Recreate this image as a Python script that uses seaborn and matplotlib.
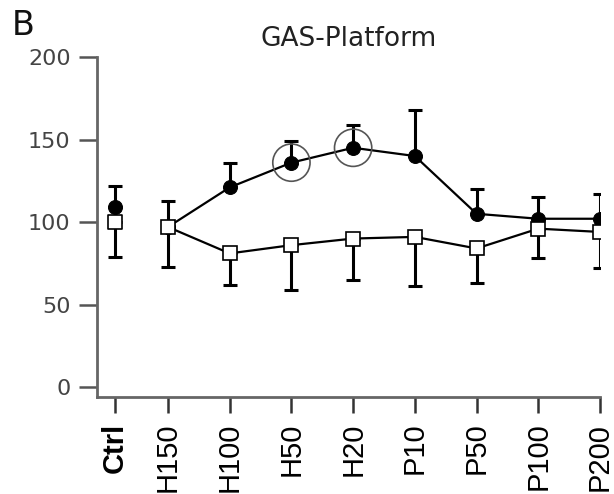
import numpy as np
import pandas as pd
import matplotlib
matplotlib.use("Agg")
import matplotlib.pyplot as plt
import seaborn as sns

# ---- data ----
categories = ["Ctrl", "H150", "H100", "H50", "H20", "P10", "P50", "P100", "P200"]
filled_mean = [109, 97, 121, 136, 145, 140, 105, 102, 102]
filled_upper = [122, 113, 136, 149, 159, 168, 120, 115, 117]
open_mean = [100, 97, 81, 86, 90, 91, 84, 96, 94]
open_lower = [79, 73, 62, 59, 65, 61, 63, 78, 72]
highlighted = ["H50", "H20"]
yticks = [0, 50, 100, 150, 200]
title = "GAS-Platform"
panel = "B"

sns.set_style("ticks")
plt.rcParams["font.family"] = ["DejaVu Sans"]

# layout positions for categories (Ctrl sits closer to H150)
xpos = np.array([0.14] + list(range(1, len(categories))), dtype=float)

df = pd.DataFrame({
    "cat": categories,
    "x": xpos,
    "filled": filled_mean,
    "filled_up": filled_upper,
    "open": open_mean,
    "open_lo": open_lower,
})
ctrl = df.iloc[:1]
rest = df.iloc[1:]

fig = plt.figure(figsize=(6.14, 4.94), dpi=100)
ax = fig.add_axes([97 / 614, 1 - 397 / 494, (600 - 97) / 614, (397 - 57) / 494])

# error bars (one-sided)
f = df["filled"].to_numpy(float)
o = df["open"].to_numpy(float)
ax.errorbar(df["x"], f, yerr=[np.zeros_like(f), df["filled_up"] - f], fmt="none",
            ecolor="black", elinewidth=2.2, capsize=4.8, capthick=2.2, zorder=2)
ax.errorbar(df["x"], o, yerr=[o - df["open_lo"], np.zeros_like(o)], fmt="none",
            ecolor="black", elinewidth=2.2, capsize=4.8, capthick=2.2, zorder=2)

# lines with markers
sns.lineplot(data=rest, x="x", y="filled", color="black", lw=1.6, marker="o",
             markersize=10, markeredgecolor="black", markerfacecolor="black",
             ax=ax, zorder=3)
sns.lineplot(data=rest, x="x", y="open", color="black", lw=1.6, marker="s",
             markersize=10.5, markeredgecolor="black", markerfacecolor="white",
             markeredgewidth=1.2, ax=ax, zorder=4)

# control points (not connected)
sns.scatterplot(data=ctrl, x="x", y="filled", color="black", marker="o", s=100,
                edgecolor="black", ax=ax, zorder=3)
sns.scatterplot(data=ctrl, x="x", y="open", color="white", marker="s", s=110,
                edgecolor="black", linewidth=1.2, ax=ax, zorder=4)

# highlight rings
hl = df[df["cat"].isin(highlighted)]
sns.scatterplot(data=hl, x="x", y="filled", marker="o", s=720, facecolor="none",
                edgecolor="#555555", linewidth=1.2, ax=ax, zorder=5)

ax.set_xlim(-0.15, 8)
ax.set_ylim(-6, 200)
ax.set_yticks(yticks)
ax.set_xticks(xpos)
ax.set_xticklabels(categories, rotation=90, fontsize=21, family="Liberation Sans")
ax.get_xticklabels()[0].set_fontweight("bold")
ax.set_xlabel("")
ax.set_ylabel("")

for s in ["top", "right"]:
    ax.spines[s].set_visible(False)
for s in ["left", "bottom"]:
    ax.spines[s].set_color("#666666")
    ax.spines[s].set_linewidth(2)

ax.tick_params(axis="y", length=13, width=1.8, color="#555555",
               labelcolor="#444444", labelsize=16, pad=6)
ax.tick_params(axis="x", length=11.5, width=1.8, color="#333333",
               labelcolor="black", pad=7)

ax.set_title(title, fontsize=19, pad=8, color="#222222")
fig.text(12 / 614, 1 - 35 / 494, panel, fontsize=24, color="#111111",
         ha="left", va="baseline")

fig.savefig("out.png", dpi=100)
